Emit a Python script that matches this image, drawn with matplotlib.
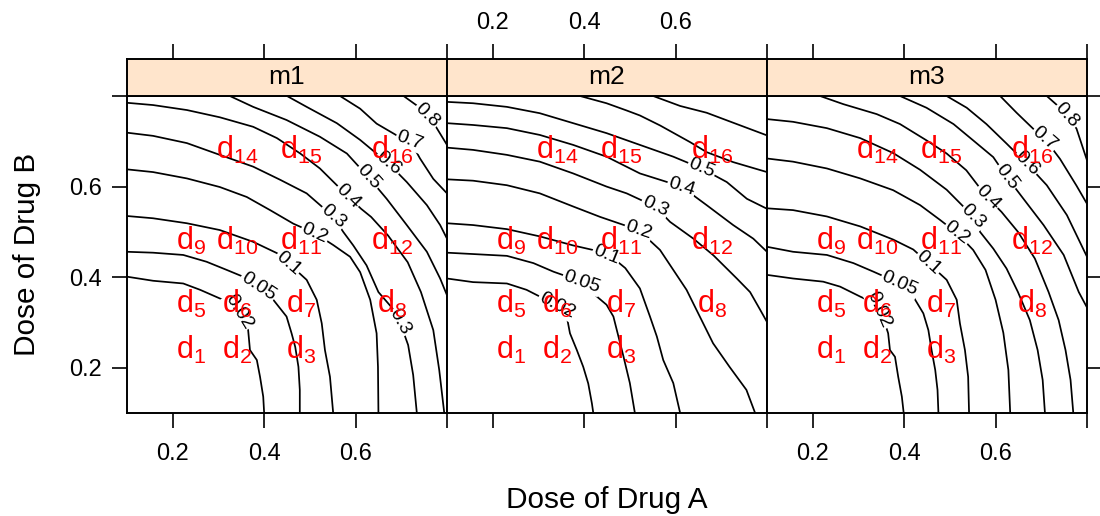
import numpy as np
import matplotlib.pyplot as plt

plt.rcParams['font.family'] = ['Liberation Sans', 'DejaVu Sans']
plt.rcParams['mathtext.fontset'] = 'custom'
plt.rcParams['mathtext.rm'] = 'Liberation Sans'
plt.rcParams['mathtext.default'] = 'rm'

models = ['m1', 'm2', 'm3']

# dose combinations shown as d1..d16 (d4 and d13 are not drawn)
dose_a = [0.24, 0.34, 0.48, 0.68]
dose_b = [0.24, 0.34, 0.48, 0.68]
combo_ids = [1, 2, 3, 5, 6, 7, 8, 9, 10, 11, 12, 14, 15, 16]

# contour lines (dose A, dose B), one dict per model
m1_contours = {
    0.02: [(0.100, 0.401), (0.157, 0.392), (0.223, 0.386), (0.260, 0.372), (0.303, 0.353), (0.336, 0.338),
           (0.358, 0.302), (0.365, 0.283), (0.369, 0.239), (0.384, 0.217), (0.391, 0.180), (0.398, 0.136),
           (0.400, 0.100)],
    0.05: [(0.100, 0.456), (0.157, 0.454), (0.223, 0.449), (0.274, 0.434), (0.318, 0.416), (0.354, 0.401),
           (0.387, 0.379), (0.420, 0.350), (0.449, 0.313), (0.460, 0.276), (0.468, 0.246), (0.475, 0.202),
           (0.478, 0.151), (0.478, 0.100)],
    0.1: [(0.100, 0.535), (0.157, 0.530), (0.231, 0.519), (0.303, 0.504), (0.376, 0.478), (0.428, 0.453),
          (0.453, 0.431), (0.493, 0.394), (0.515, 0.350), (0.526, 0.298), (0.533, 0.239), (0.544, 0.180),
          (0.551, 0.100)],
    0.2: [(0.100, 0.638), (0.157, 0.632), (0.231, 0.618), (0.303, 0.599), (0.362, 0.577), (0.413, 0.548),
          (0.464, 0.518), (0.511, 0.497), (0.551, 0.471), (0.588, 0.445), (0.610, 0.411), (0.632, 0.350),
          (0.646, 0.276), (0.649, 0.202), (0.650, 0.100)],
    0.3: [(0.100, 0.719), (0.157, 0.712), (0.231, 0.696), (0.303, 0.670), (0.376, 0.644), (0.435, 0.615),
          (0.493, 0.585), (0.551, 0.534), (0.573, 0.500), (0.595, 0.470), (0.624, 0.426), (0.650, 0.367),
          (0.680, 0.332), (0.697, 0.301), (0.715, 0.250), (0.726, 0.184), (0.734, 0.100)],
    0.4: [(0.100, 0.785), (0.157, 0.780), (0.231, 0.769), (0.303, 0.753), (0.376, 0.732), (0.428, 0.707),
          (0.479, 0.673), (0.522, 0.640), (0.584, 0.578), (0.612, 0.551), (0.634, 0.533), (0.671, 0.492),
          (0.714, 0.433), (0.743, 0.367), (0.770, 0.283), (0.783, 0.195), (0.794, 0.100)],
    0.5: [(0.325, 0.800), (0.376, 0.776), (0.449, 0.747), (0.522, 0.710), (0.581, 0.673), (0.628, 0.621),
          (0.668, 0.573), (0.712, 0.515), (0.756, 0.456), (0.785, 0.397), (0.800, 0.360)],
    0.6: [(0.450, 0.800), (0.493, 0.776), (0.559, 0.740), (0.610, 0.703), (0.672, 0.651), (0.712, 0.610),
          (0.756, 0.559), (0.785, 0.515), (0.800, 0.485)],
    0.7: [(0.566, 0.800), (0.610, 0.772), (0.646, 0.739), (0.690, 0.713), (0.719, 0.702), (0.741, 0.662),
          (0.770, 0.617), (0.800, 0.585)],
    0.8: [(0.705, 0.800), (0.734, 0.779), (0.756, 0.757), (0.774, 0.735), (0.800, 0.692)],
}

m2_contours = {
    0.02: [(0.100, 0.397), (0.157, 0.389), (0.231, 0.386), (0.274, 0.372), (0.311, 0.353), (0.340, 0.338),
           (0.362, 0.313), (0.369, 0.276), (0.384, 0.239), (0.398, 0.202), (0.409, 0.165), (0.417, 0.121),
           (0.420, 0.100)],
    0.05: [(0.100, 0.454), (0.157, 0.451), (0.231, 0.447), (0.289, 0.431), (0.333, 0.412), (0.395, 0.390),
           (0.428, 0.357), (0.449, 0.339), (0.464, 0.313), (0.475, 0.269), (0.486, 0.225), (0.500, 0.166),
           (0.511, 0.100)],
    0.1: [(0.100, 0.519), (0.157, 0.515), (0.231, 0.506), (0.303, 0.490), (0.376, 0.470), (0.428, 0.458),
          (0.460, 0.445), (0.490, 0.420), (0.522, 0.375), (0.544, 0.313), (0.559, 0.269), (0.573, 0.217),
          (0.595, 0.166), (0.610, 0.100)],
    0.2: [(0.100, 0.616), (0.157, 0.613), (0.231, 0.603), (0.303, 0.585), (0.376, 0.556), (0.435, 0.533),
          (0.519, 0.504), (0.566, 0.460), (0.595, 0.416), (0.624, 0.372), (0.653, 0.313), (0.682, 0.254),
          (0.718, 0.202), (0.755, 0.151), (0.774, 0.100)],
    0.3: [(0.100, 0.686), (0.157, 0.681), (0.231, 0.670), (0.303, 0.655), (0.376, 0.629), (0.449, 0.600),
          (0.493, 0.585), (0.555, 0.556), (0.588, 0.522), (0.639, 0.485), (0.683, 0.448), (0.734, 0.397),
          (0.763, 0.367), (0.785, 0.328), (0.800, 0.301)],
    0.4: [(0.100, 0.740), (0.157, 0.736), (0.231, 0.729), (0.303, 0.714), (0.376, 0.692), (0.449, 0.666),
          (0.522, 0.629), (0.613, 0.600), (0.668, 0.559), (0.726, 0.515), (0.770, 0.485), (0.800, 0.456)],
    0.5: [(0.100, 0.787), (0.157, 0.784), (0.231, 0.776), (0.303, 0.762), (0.376, 0.740), (0.449, 0.718),
          (0.522, 0.692), (0.595, 0.666), (0.657, 0.640), (0.712, 0.610), (0.756, 0.573), (0.800, 0.551)],
    0.6: [(0.391, 0.800), (0.449, 0.784), (0.493, 0.768), (0.522, 0.757), (0.566, 0.735), (0.632, 0.698),
          (0.668, 0.676), (0.726, 0.654), (0.800, 0.632)],
    0.7: [(0.551, 0.800), (0.610, 0.778), (0.668, 0.763), (0.726, 0.741), (0.800, 0.713)],
}

m3_contours = {
    0.02: [(0.100, 0.405), (0.157, 0.397), (0.223, 0.390), (0.260, 0.379), (0.304, 0.357), (0.340, 0.340),
           (0.358, 0.298), (0.365, 0.276), (0.369, 0.239), (0.380, 0.224), (0.387, 0.180), (0.395, 0.136),
           (0.399, 0.100)],
    0.05: [(0.100, 0.467), (0.157, 0.456), (0.231, 0.449), (0.289, 0.431), (0.333, 0.412), (0.391, 0.386),
           (0.420, 0.357), (0.442, 0.320), (0.453, 0.283), (0.460, 0.239), (0.468, 0.195), (0.473, 0.151),
           (0.475, 0.100)],
    0.1: [(0.100, 0.552), (0.157, 0.548), (0.231, 0.534), (0.304, 0.512), (0.376, 0.483), (0.420, 0.461),
          (0.453, 0.431), (0.493, 0.394), (0.515, 0.350), (0.522, 0.298), (0.533, 0.239), (0.540, 0.180),
          (0.542, 0.100)],
    0.2: [(0.100, 0.662), (0.157, 0.655), (0.231, 0.640), (0.304, 0.618), (0.376, 0.592), (0.435, 0.559),
          (0.479, 0.526), (0.516, 0.497), (0.551, 0.460), (0.578, 0.416), (0.600, 0.350), (0.617, 0.277),
          (0.628, 0.195), (0.632, 0.100)],
    0.3: [(0.100, 0.749), (0.157, 0.743), (0.231, 0.729), (0.304, 0.707), (0.376, 0.674), (0.435, 0.637),
          (0.493, 0.593), (0.555, 0.530), (0.566, 0.500), (0.595, 0.463), (0.624, 0.419), (0.649, 0.367),
          (0.675, 0.305), (0.692, 0.239), (0.703, 0.173), (0.708, 0.100)],
    0.4: [(0.216, 0.800), (0.267, 0.782), (0.340, 0.760), (0.391, 0.738), (0.449, 0.702), (0.493, 0.673),
          (0.536, 0.636), (0.580, 0.578), (0.613, 0.544), (0.649, 0.500), (0.686, 0.441), (0.716, 0.367),
          (0.738, 0.305), (0.753, 0.239), (0.764, 0.173), (0.770, 0.100)],
    0.5: [(0.391, 0.800), (0.449, 0.774), (0.508, 0.738), (0.551, 0.702), (0.595, 0.665), (0.624, 0.622),
          (0.661, 0.573), (0.705, 0.515), (0.749, 0.449), (0.782, 0.367), (0.800, 0.333)],
    0.6: [(0.493, 0.800), (0.537, 0.774), (0.580, 0.738), (0.624, 0.695), (0.668, 0.651), (0.712, 0.603),
          (0.756, 0.537), (0.800, 0.445)],
    0.7: [(0.610, 0.800), (0.646, 0.763), (0.683, 0.727), (0.708, 0.705), (0.741, 0.661), (0.777, 0.602),
          (0.800, 0.562)],
    0.8: [(0.712, 0.800), (0.741, 0.774), (0.756, 0.757), (0.777, 0.728), (0.800, 0.658)],
}

# where the level labels sit (level, dose A, dose B)
m1_labels = [(0.02, 0.362, 0.335), (0.05, 0.387, 0.379), (0.1, 0.453, 0.431), (0.2, 0.511, 0.497),
             (0.3, 0.551, 0.534), (0.3, 0.697, 0.301), (0.4, 0.582, 0.577), (0.5, 0.628, 0.621),
             (0.6, 0.672, 0.651), (0.7, 0.719, 0.702), (0.8, 0.756, 0.757)]
m2_labels = [(0.02, 0.347, 0.350), (0.05, 0.395, 0.390), (0.1, 0.450, 0.452), (0.2, 0.519, 0.504),
             (0.3, 0.555, 0.556), (0.4, 0.613, 0.600), (0.5, 0.657, 0.640)]
m3_labels = [(0.02, 0.362, 0.335), (0.05, 0.391, 0.387), (0.1, 0.453, 0.431), (0.2, 0.516, 0.497),
             (0.3, 0.551, 0.533), (0.4, 0.584, 0.577), (0.5, 0.624, 0.621), (0.6, 0.668, 0.651),
             (0.7, 0.708, 0.706), (0.8, 0.756, 0.757)]

contours = [m1_contours, m2_contours, m3_contours]
labels = [m1_labels, m2_labels, m3_labels]

ticks = [0.2, 0.4, 0.6, 0.8]
tick_labels = ['0.2', '0.4', '0.6', '']
lims = (0.1, 0.8)


def place_on_line(ax, pts, x, y):
    """nearest point on the polyline (display coords) and the local angle"""
    xy = ax.transData.transform(np.asarray(pts))
    p = ax.transData.transform((x, y))
    best = None
    for i in range(len(xy) - 1):
        a, b = xy[i], xy[i + 1]
        d = b - a
        t = np.clip(np.dot(p - a, d) / np.dot(d, d), 0, 1)
        q = a + t * d
        dist = np.hypot(*(p - q))
        if best is None or dist < best[0]:
            best = (dist, q, d)
    _, q, d = best
    ang = np.degrees(np.arctan2(d[1], d[0]))
    if ang > 90:
        ang -= 180
    if ang < -90:
        ang += 180
    return ax.transData.inverted().transform(q), ang


W, H = 1100, 516
fig = plt.figure(figsize=(W / 100, H / 100), dpi=100)
lefts = [127, 447, 767]
tick_kw = dict(direction='out', length=10.8, width=1.2, labelsize=17, color='black')

for k, m in enumerate(models):
    ax = fig.add_axes([lefts[k] / W, (H - 413) / H, 320 / W, 317 / H])
    ax.set_xlim(lims)
    ax.set_ylim(lims)
    for s in ax.spines.values():
        s.set_linewidth(1.4)

    for lev, pts in contours[k].items():
        arr = np.array(pts)
        ax.plot(arr[:, 0], arr[:, 1], color='black', lw=1.25, zorder=2)

    for lev, x, y in labels[k]:
        (lx, ly), ang = place_on_line(ax, contours[k][lev], x, y)
        ax.text(lx, ly, '{:g}'.format(lev), fontsize=14, rotation=ang, rotation_mode='anchor',
                ha='center', va='center', zorder=3,
                bbox=dict(boxstyle='square,pad=0.05', fc='white', ec='none'))

    for cid in combo_ids:
        a = dose_a[(cid - 1) % 4]
        b = dose_b[(cid - 1) // 4]
        ax.text(a, b, r'$d_{%d}$' % cid, color='#FF0000', fontsize=22,
                ha='center', va='center', zorder=4)

    ax.set_xticks(ticks)
    ax.set_yticks(ticks)
    ax.tick_params(axis='x', bottom=True, top=False, labelbottom=(k != 1), pad=11, **tick_kw)
    ax.tick_params(axis='y', left=(k == 0), right=(k == 2), labelleft=(k == 0), labelright=False,
                   pad=7, **tick_kw)
    ax.set_xticklabels(tick_labels)
    ax.set_yticklabels(tick_labels)

    # strip with the model name, top ticks above it
    st = fig.add_axes([lefts[k] / W, (H - 96) / H, 320 / W, 37 / H])
    st.set_facecolor('#FFE5CC')
    st.set_xlim(lims)
    st.set_ylim(0, 1)
    for s in st.spines.values():
        s.set_linewidth(1.4)
    st.set_yticks([])
    st.set_xticks(ticks)
    st.set_xticklabels(tick_labels)
    st.tick_params(axis='x', bottom=False, top=True, labelbottom=False, labeltop=(k == 1), pad=7, **tick_kw)
    st.text(0.5, 0.5, m, transform=st.transAxes, ha='center', va='center', fontsize=19)

fig.text(607 / W, 1 - 500 / H, 'Dose of Drug A', ha='center', va='center', fontsize=21.4)
fig.text(27 / W, 1 - 254.5 / H, 'Dose of Drug B', ha='center', va='center', rotation=90, fontsize=21.4)

fig.savefig('out.png', dpi=100)
